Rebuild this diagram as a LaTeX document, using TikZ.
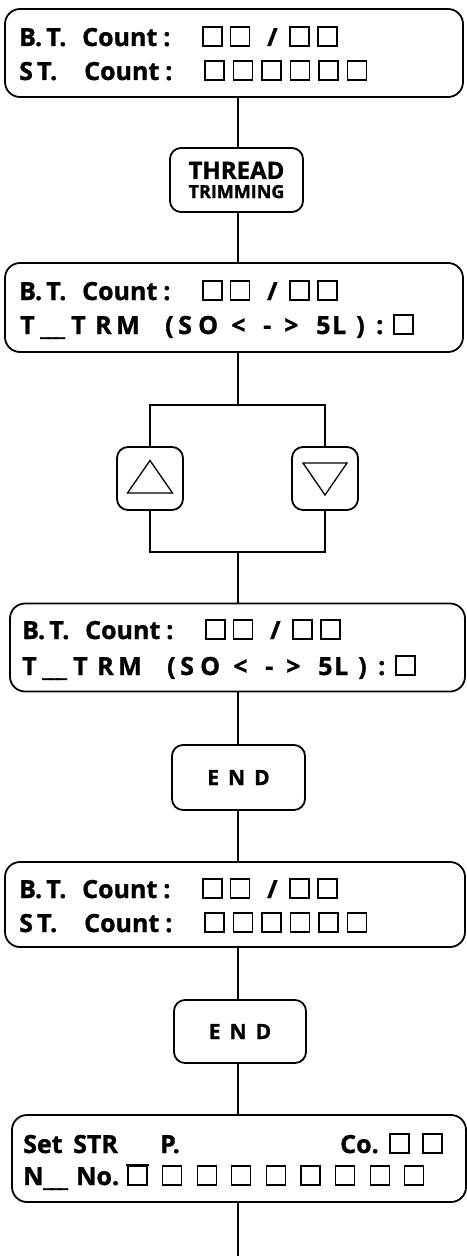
\documentclass[tikz,border=0pt]{standalone}
\usepackage{fontspec}
\setmainfont{Open Sans}[BoldFeatures={FakeBold=1.2}]
\usetikzlibrary{calc}
\tikzset{
  disp/.style={draw, line width=1.8pt, rounded corners=15pt, inner sep=0pt, minimum height=88pt},
  keybox/.style={draw, line width=1.8pt, rounded corners=11pt, inner sep=0pt, align=center},
  wire/.style={line width=1.5pt},
  txt/.style={anchor=base west, inner sep=0pt, font=\bfseries\fontsize{25}{28}\selectfont},
  sqr/.style={line width=1.1pt},
}
\newcommand{\sqrow}[4]{%
  \foreach \k in {1,...,#3}
    \draw[sqr] ({#1+(\k-1)*#4},#2) rectangle ++(19,-19);}
\newcommand{\btrow}[3]{%
  \node[txt] (#1) at (19+#2,#3) {B.\,T.};
  \node[txt] (#1w) at (82+#2,#3) {Count\kern6pt:};
  \node[txt] (#1sl) at (267+#2,#3) {/};
  \sqrow{203+#2}{#3}{2}{27.5}
  \sqrow{290+#2}{#3}{2}{28}}
\newcommand{\strow}[3]{%
  \node[txt] (#1) at (19+#2,#3) {S\,T.};
  \node[txt] (#1w) at (84+#2,#3) {Count\kern6pt:};
  \sqrow{205+#2}{#3}{6}{28.5}}
\newcommand{\trmrow}[3]{%
  \node[txt] (#1) at (20+#2,#3) {T};
  \node[txt] (#1u) at (40+#2,#3+1) {\_\kern-3pt\_\kern-3pt\_};
  \foreach \x/\c in {71/T, 95/R, 116/M, 165/(, 178/S, 198/O, 231/<, 263/-, 284/>, 316/5, 332/L, 356/), 376/:}
    \node[txt] (#1-\x) at (\x+#2,#3) {\c};
  \sqrow{394+#2}{#3}{1}{0}}
\begin{document}
\begin{tikzpicture}[x=1pt, y=-1pt]
\useasboundingbox (0,0) rectangle (466,1257);
\coordinate (axis) at (238,0);
%---- count display
\node[disp, minimum width=458pt] (d1) at (234,53) {};
\btrow{d1a}{0}{46}
\strow{d1b}{0}{80}
%---- thread trimming key
\node[keybox, minimum width=133pt, minimum height=64pt] (thr) at (236.5,180)
  {\bfseries\fontsize{24}{24}\selectfont THREAD\\[5pt] \bfseries\fontsize{18}{18}\selectfont TRIMMING};
%---- trimming display
\node[disp, minimum width=458pt, minimum height=89pt] (d2) at (234,307.5) {};
\btrow{d2a}{0}{300}
\trmrow{d2b}{0}{334}
%---- up / down keys
\node[keybox, minimum width=66pt, minimum height=63pt] (up) at (150,478.5) {};
\node[keybox, minimum width=66pt, minimum height=63pt] (dn) at (325,478.5) {};
\draw[line width=1.3pt] ([shift={(0,-18)}]up.center) -- ([shift={(22.5,14.5)}]up.center)
  -- ([shift={(-22.5,14.5)}]up.center) -- cycle;
\draw[line width=1.3pt] ([shift={(0,16.5)}]dn.center) -- ([shift={(22,-15.5)}]dn.center)
  -- ([shift={(-22,-15.5)}]dn.center) -- cycle;
\coordinate (ftop) at (238,405);
\coordinate (fbot) at (238,552);
\draw[wire] (up.north) |- (ftop) -| (dn.north);
\draw[wire] (up.south) |- (fbot) -| (dn.south);
%---- trimming display, changed
\node[disp, minimum width=455pt] (d3) at (237.5,647.5) {};
\btrow{d3a}{3}{639}
\trmrow{d3b}{2}{675}
\node[keybox, minimum width=133pt, minimum height=65pt] (e1) at (238.5,777.5)
  {\bfseries\fontsize{21}{24}\selectfont E\kern9pt N\kern9pt D};
%---- count display again
\node[disp, minimum width=460pt, minimum height=85pt] (d4) at (235,904.5) {};
\btrow{d4a}{0}{898}
\strow{d4b}{0}{932}
\node[keybox, minimum width=132pt, minimum height=63pt] (e2) at (240,1031.5)
  {\bfseries\fontsize{21}{24}\selectfont E\kern9pt N\kern9pt D};
%---- set display
\node[disp, minimum width=454pt, minimum height=87pt] (d5) at (239,1158.5) {};
\node[txt] (d5a) at (23,1153) {Set};
\node[txt] (d5s) at (73,1153) {STR};
\node[txt] (d5p) at (160,1153) {P.};
\node[txt] (d5c) at (340,1153) {Co.};
\sqrow{390}{1153}{2}{33}
\node[txt] (d5n) at (23,1185) {N};
\node[txt] (d5u) at (43,1186) {\_\kern-3pt\_\kern-3pt\_};
\node[txt] (d5o) at (76,1185) {No.};
\sqrow{128}{1185}{9}{34.6}
\draw[line width=2.6pt] (126,1165) -- (149,1165);
\coordinate (tail) at (238,1256);
%---- connectors
\foreach \a/\b in {d1/thr, thr/d2, d3/e1, e1/d4, d4/e2, e2/d5}
  \draw[wire] (\a.south -| axis) -- (\b.north -| axis);
\draw[wire] (d2.south -| axis) -- (ftop);
\draw[wire] (fbot) -- (d3.north -| axis);
\draw[wire] (d5.south -| axis) -- (tail);
\end{tikzpicture}
\end{document}
